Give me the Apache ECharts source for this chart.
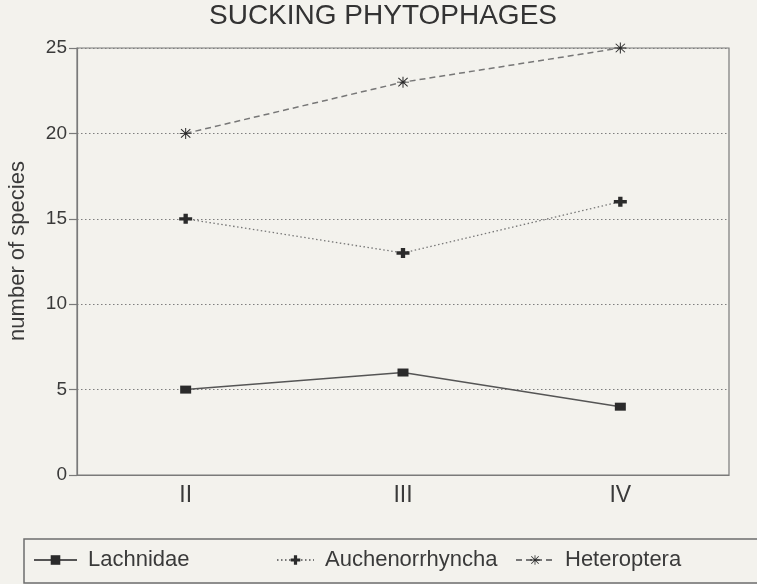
<!DOCTYPE html>
<html>
<head>
<meta charset="utf-8">
<script src="https://cdn.jsdelivr.net/npm/echarts@6/dist/echarts.min.js"></script>
<style>
html,body{margin:0;padding:0;background:#f3f2ed;}
#c{width:757px;height:584px;}
</style>
</head>
<body>
<div id="c"></div>
<script>
var categories = ['II', 'III', 'IV'];
var lachnidae = [5, 6, 4];
var auchenorrhyncha = [15, 13, 16];
var heteroptera = [20, 23, 25];
var seriesNames = ['Lachnidae', 'Auchenorrhyncha', 'Heteroptera'];
var yTicks = [0, 5, 10, 15, 20, 25];
var yAxisTitle = 'number of species';

var plusPath = 'path://M4,0H8V4H12V8H8V12H4V8H0V4H4Z';
var starPath = 'path://M5.5,0H6.5V12H5.5Z M0,5.5H12V6.5H0Z M1,1.7L1.7,1L11,10.3L10.3,11Z M10.3,1L11,1.7L1.7,11L1,10.3Z';

var font = 'Liberation Sans, Arial, Helvetica, sans-serif';
var textColor = '#3a3a3a';

var chart = echarts.init(document.getElementById('c'), null, {renderer: 'canvas'});

function legendAt(name, left, w) {
  return {
    data: [name], left: left, top: 549, padding: 0,
    itemWidth: w, itemHeight: 12, itemGap: 0,
    textStyle: {fontFamily: font, fontSize: 22, color: textColor, padding: [0, 0, 0, 6]}
  };
}

chart.setOption({
  animation: false,
  backgroundColor: '#f3f2ed',
  title: {
    text: 'SUCKING PHYTOPHAGES', left: 383, textAlign: 'center', top: 2, padding: 0,
    textStyle: {fontFamily: font, fontSize: 28, fontWeight: 'normal', color: '#333'}
  },
  legend: [
    legendAt(seriesNames[0], 33, 43),
    legendAt(seriesNames[1], 276, 37),
    legendAt(seriesNames[2], 515, 38)
  ],
  graphic: [{
    type: 'rect', shape: {x: 24, y: 539, width: 800, height: 44},
    style: {fill: 'none', stroke: '#6e6e6e', lineWidth: 1.5}, silent: true
  }, {
    type: 'text', x: 18, y: 251, rotation: Math.PI / 2, silent: true,
    style: {text: yAxisTitle, fontFamily: font, fontSize: 22, fill: textColor,
            align: 'center', verticalAlign: 'middle'}
  }],
  grid: {
    left: 77, right: 28, top: 48, bottom: 109,
    show: true, borderColor: '#7a7a7a', borderWidth: 1.2, backgroundColor: 'transparent'
  },
  xAxis: {
    type: 'category', data: categories, boundaryGap: true,
    axisLine: {lineStyle: {color: '#7a7a7a', width: 1.2}},
    axisTick: {alignWithLabel: true, length: 7, lineStyle: {color: '#7a7a7a', width: 1.2}},
    axisLabel: {fontFamily: font, fontSize: 23, color: textColor, margin: 9}
  },
  yAxis: {
    type: 'value', min: yTicks[0], max: yTicks[yTicks.length - 1], interval: 5,
    axisLine: {show: true, lineStyle: {color: '#7a7a7a', width: 1.2}},
    axisTick: {show: true, length: 8, lineStyle: {color: '#7a7a7a', width: 1.2}},
    axisLabel: {fontFamily: font, fontSize: 19, color: textColor, margin: 10},
    splitLine: {show: true, lineStyle: {color: '#7e7e7e', width: 1, type: [1.5, 2.5]}}
  },
  series: [
    {
      name: seriesNames[0], type: 'line', data: lachnidae,
      symbol: 'rect', symbolSize: [11, 8],
      lineStyle: {color: '#555', width: 1.5, type: 'solid'},
      itemStyle: {color: '#2b2b2b'}
    },
    {
      name: seriesNames[1], type: 'line', data: auchenorrhyncha,
      symbol: plusPath, symbolSize: [13, 10],
      lineStyle: {color: '#777', width: 1.3, type: [1.5, 2.5]},
      itemStyle: {color: '#2b2b2b'}
    },
    {
      name: seriesNames[2], type: 'line', data: heteroptera,
      symbol: starPath, symbolSize: [12, 11],
      lineStyle: {color: '#777', width: 1.5, type: [6, 4]},
      itemStyle: {color: '#2b2b2b'}
    }
  ]
});
</script>
</body>
</html>
